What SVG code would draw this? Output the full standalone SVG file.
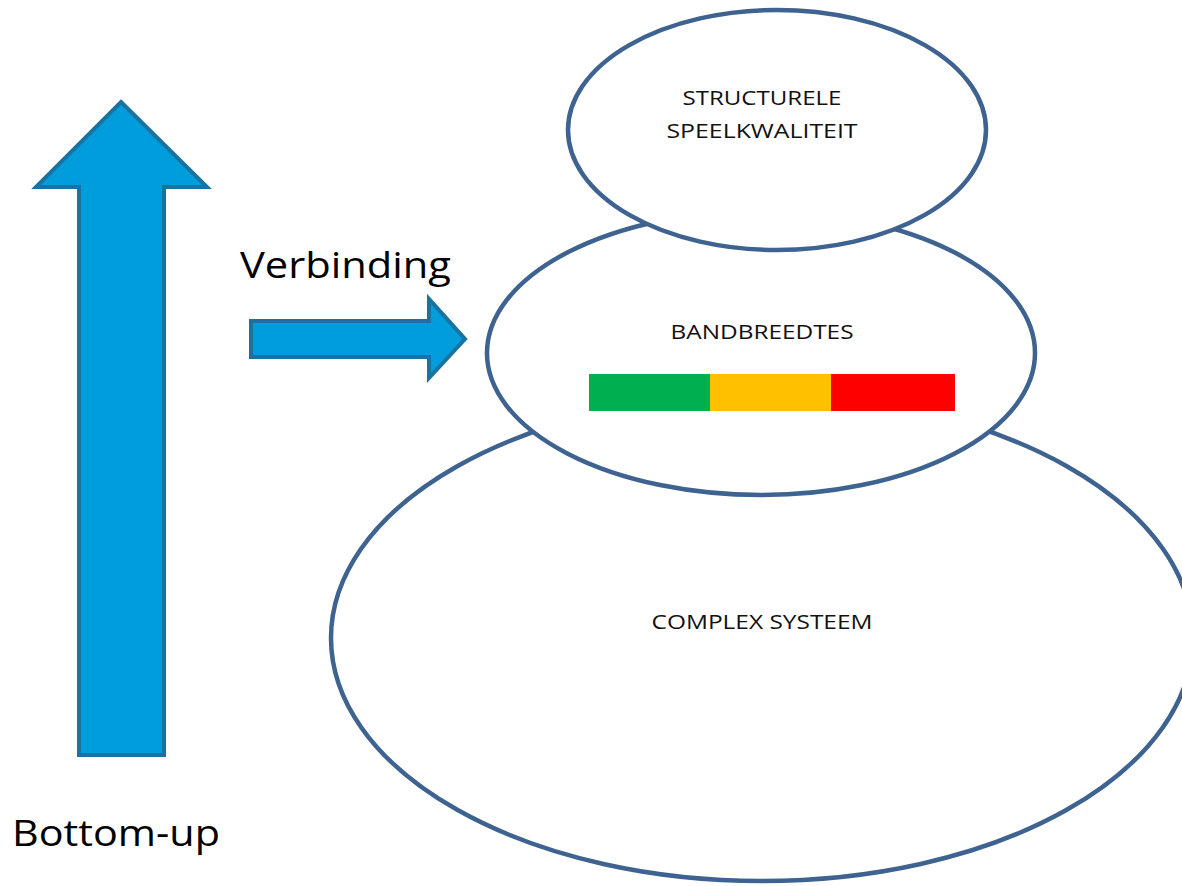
<svg xmlns="http://www.w3.org/2000/svg" width="1182" height="886" viewBox="0 0 1182 886">
<style>
.ell{fill:#fff;stroke:#3E6390;stroke-width:4.5}
.arr{fill:#009DDC;stroke:#1A72A0;stroke-width:4;stroke-linejoin:miter}
.lbl{font-family:"Open Sans","Liberation Sans",sans-serif;font-size:20px;fill:#111;text-anchor:middle}
.big{font-family:"Open Sans","Liberation Sans",sans-serif;font-size:37px;fill:#000}
</style>
<rect width="1182" height="886" fill="#fff"/>
<g id="bottom-up-arrow">
<polygon class="arr" points="121,102 207,187 164,187 164,755 79,755 79,187 36,187"/>
</g>
<g id="connectors">
<polygon class="arr" points="251,321 429,321 429,299 465,339 429,378 429,357 251,357"/>
</g>
<g id="complex-systeem">
<ellipse class="ell" cx="762" cy="638" rx="431" ry="243"/>
<text class="lbl" x="762" y="629" textLength="221" lengthAdjust="spacingAndGlyphs">COMPLEX SYSTEEM</text>
</g>
<g id="bandbreedtes">
<ellipse class="ell" cx="761" cy="353" rx="274" ry="142"/>
<text class="lbl" x="762" y="339" textLength="183" lengthAdjust="spacingAndGlyphs">BANDBREEDTES</text>
<rect x="589" y="374" width="121" height="37" fill="#00B050"/>
<rect x="710" y="374" width="121" height="37" fill="#FFC000"/>
<rect x="831" y="374" width="124" height="37" fill="#FF0000"/>
</g>
<g id="structurele-speelkwaliteit">
<ellipse class="ell" cx="777" cy="130" rx="209" ry="120"/>
<text class="lbl" x="762" y="105" textLength="159" lengthAdjust="spacingAndGlyphs">STRUCTURELE</text>
<text class="lbl" x="762" y="138" textLength="191" lengthAdjust="spacingAndGlyphs">SPEELKWALITEIT</text>
</g>
<text class="big" x="240" y="278" textLength="211" lengthAdjust="spacingAndGlyphs">Verbinding</text>
<text class="big" x="12" y="846" textLength="208" lengthAdjust="spacingAndGlyphs">Bottom-up</text>
</svg>
